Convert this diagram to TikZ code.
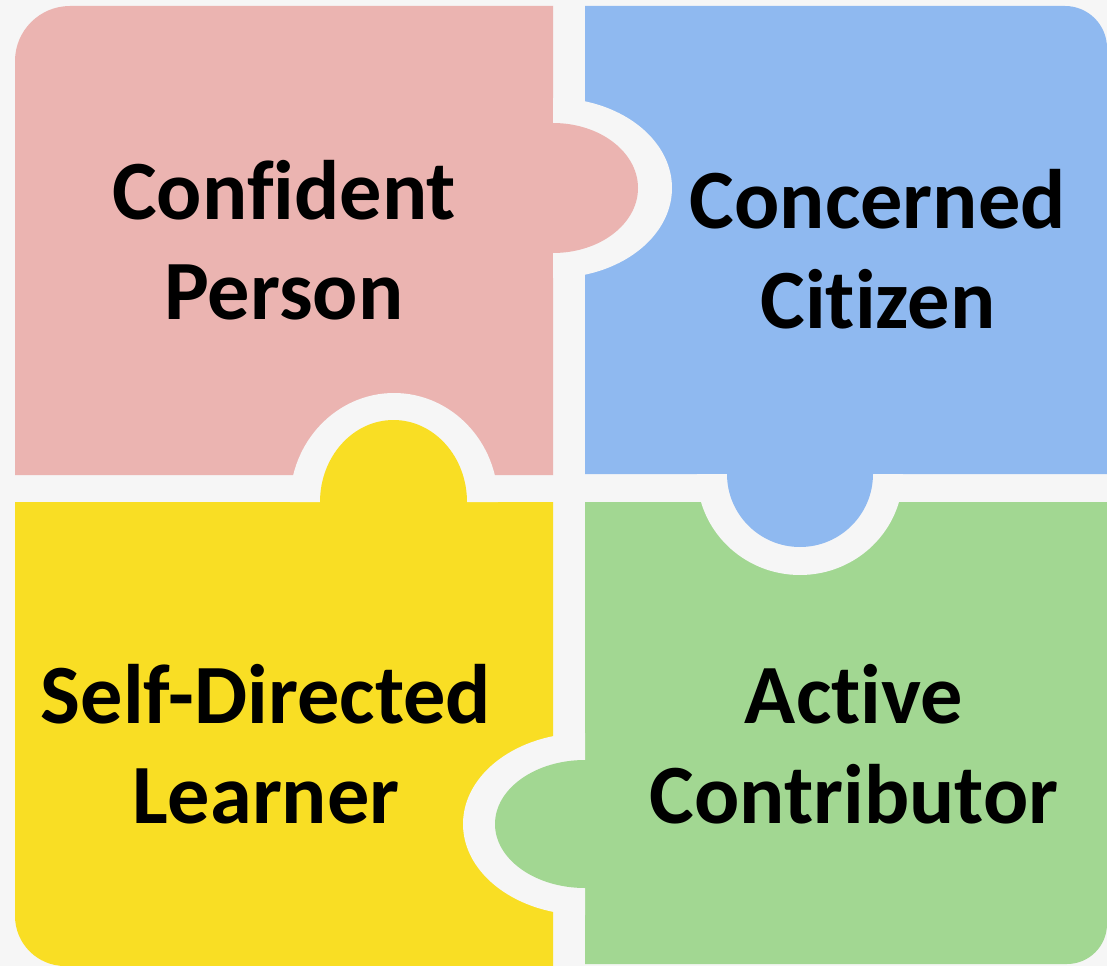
\documentclass[tikz,border=0pt]{standalone}
\usepackage{fontspec}
\setmainfont{Carlito}[Ligatures=NoCommon]
\definecolor{gapgray}{RGB}{246,246,246}
\definecolor{pinkp}{RGB}{235,180,177}
\definecolor{bluep}{RGB}{143,185,240}
\definecolor{yellowp}{RGB}{249,222,36}
\definecolor{greenp}{RGB}{162,215,146}

\begin{document}
\begin{tikzpicture}[x=0.025cm, y=-0.025cm,
  piecetext/.style={font=\fontsize{60}{71}\selectfont\bfseries, align=center, text=black}]
  \fill[gapgray] (0,0) rectangle (1107,966);
  \useasboundingbox (0,0) rectangle (1107,966);
  % the four pieces
  \fill[pinkp] (15,475) -- (15,61) arc[start angle=180, end angle=270, radius=55] -- (553,6) -- (553,475) -- cycle;
  \fill[bluep] (585,6) -- (1065,6) arc[start angle=270, end angle=360, radius=42] -- (1107,474) -- (585,474) -- cycle;
  \fill[yellowp] (15,502) -- (553,502) -- (553,966) -- (65,966) arc[start angle=90, end angle=180, radius=50] -- cycle;
  \fill[greenp] (585,502) -- (1107,502) -- (1107,924) arc[start angle=0, end angle=90, radius=40] -- (585,964) -- cycle;
  % sockets
  \fill[gapgray] (553,98) arc[start angle=-90, end angle=90, x radius=119, y radius=90] -- cycle;
  \fill[gapgray] (290,502) arc[start angle=180, end angle=360, x radius=104, y radius=109] -- cycle;
  \fill[gapgray] (697,474) arc[start angle=180, end angle=0, x radius=103, y radius=101] -- cycle;
  \fill[gapgray] (585,733) arc[start angle=270, end angle=90, x radius=122, y radius=91] -- cycle;
  % tabs
  \fill[pinkp] (550,123) -- (553,123) arc[start angle=-90, end angle=90, x radius=85, y radius=65] -- (550,253) -- cycle;
  \fill[yellowp] (320,505) -- (320,502) arc[start angle=180, end angle=360, x radius=73.5, y radius=82] -- (467,505) -- cycle;
  \fill[bluep] (727,471) -- (727,474) arc[start angle=180, end angle=0, radius=73] -- (873,471) -- cycle;
  \fill[greenp] (588,760) -- (585,760) arc[start angle=270, end angle=90, x radius=90, y radius=64] -- (588,888) -- cycle;
  % texts
  \node[piecetext] (confident) at (284,240) {Confident\\Person};
  \node[piecetext] (concerned) at (878,249) {Concerned\\Citizen};
  \node[piecetext] (selfdirected) at (266,744) {Self-Directed\\Learner};
  \node[piecetext] (active) at (854,744) {Active\\Contributor};
\end{tikzpicture}
\end{document}
